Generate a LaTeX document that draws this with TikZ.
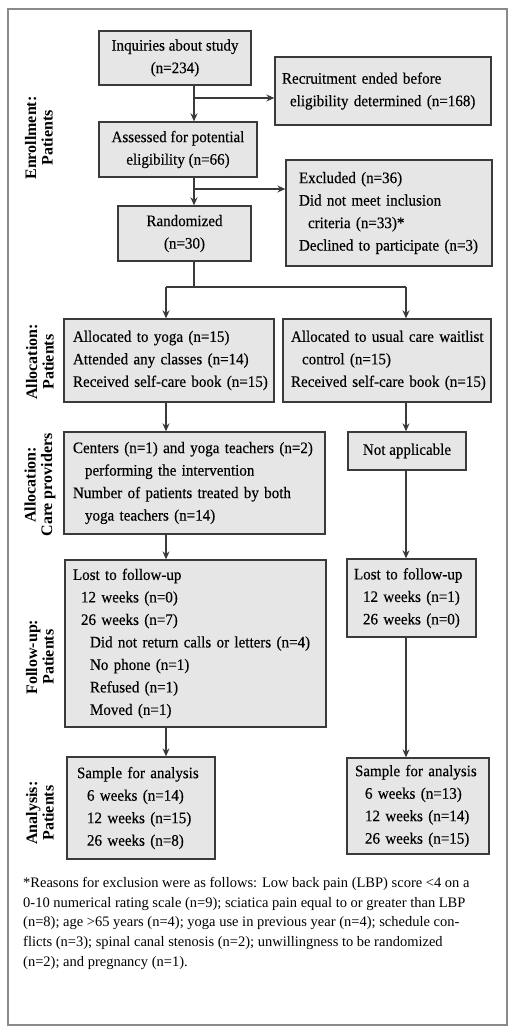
\documentclass[tikz,border=0pt]{standalone}
\usepackage{fontspec}
\setmainfont{Liberation Serif}
\newfontfamily\boxfamily[FakeStretch=0.94,FakeBold=0.3]{Liberation Serif}
\usetikzlibrary{arrows.meta}
\definecolor{boxfill}{HTML}{E6E6E6}
\definecolor{boxline}{HTML}{3A3A3A}
\definecolor{frameline}{HTML}{8A8A8A}
\tikzset{
  bx/.style={draw=boxline, fill=boxfill, line width=1.3pt, inner ysep=0pt,
    font=\boxfamily\fontsize{16}{22.5}\selectfont},
  ctr/.style={bx, align=center},
  lft/.style={bx, align=left},
  arr/.style={draw=boxline, line width=1.2pt, -{Stealth[length=8pt,width=7pt]}},
  ln/.style={draw=boxline, line width=1.2pt},
  side/.style={rotate=90, align=center, font=\bfseries\fontsize{16}{16.5}\selectfont},
}
\newcommand{\Lb}[2][0]{\mbox{\hspace*{#1pt}#2}}
\begin{document}
\begin{tikzpicture}[x=1pt,y=-1pt]
\useasboundingbox (0,0) rectangle (516,1035);
\draw[frameline, line width=1.4pt] (8,9) rectangle (507,1025);

% boxes
\node[ctr, minimum width=152pt, minimum height=54pt] (inq) at (175,58) {Inquiries about study\\(n=234)};
\node[lft, minimum height=68pt, text width=202pt, inner xsep=7pt] (rec) at (383,91) {\Lb{Recruitment ended before}\\\Lb[8]{eligibility determined (n=168)}};
\node[ctr, minimum width=158pt, minimum height=55pt] (ass) at (178,149.5) {Assessed for potential\\eligibility (n=66)};
\node[lft, minimum height=106pt, text width=180pt, inner xsep=13pt] (exc) at (389,213) {\Lb{Excluded (n=36)}\\\Lb{Did not meet inclusion}\\\Lb[9]{criteria (n=33)*}\\\Lb{Declined to participate (n=3)}};
\node[ctr, minimum width=133pt, minimum height=55pt] (ran) at (184.5,233.5) {Randomized\\(n=30)};
\node[lft, minimum height=83pt, text width=192pt, inner xsep=9pt] (ay) at (169,360.5) {\Lb{Allocated to yoga (n=15)}\\\Lb{Attended any classes (n=14)}\\\Lb{Received self-care book (n=15)}};
\node[lft, minimum height=83pt, text width=192pt, inner xsep=8pt] (au) at (387,360.5) {\Lb{Allocated to usual care waitlist}\\\Lb[11]{control (n=15)}\\\Lb{Received self-care book (n=15)}};
\node[lft, minimum height=102pt, text width=243pt, inner xsep=9pt] (cen) at (194.5,483) {\Lb{Centers (n=1) and yoga teachers (n=2)}\\\Lb[12]{performing the intervention}\\\Lb{Number of patients treated by both}\\\Lb[12]{yoga teachers (n=14)}};
\node[ctr, minimum width=118pt, minimum height=38pt] (na) at (407,451) {Not applicable};
\node[lft, minimum height=167pt, text width=245pt, inner xsep=8pt] (ll) at (195.5,643.5) {\Lb{Lost to follow-up}\\\Lb[8]{12 weeks (n=0)}\\\Lb[8]{26 weeks (n=7)}\\\Lb[17]{Did not return calls or letters (n=4)}\\\Lb[17]{No phone (n=1)}\\\Lb[17]{Refused (n=1)}\\\Lb[17]{Moved (n=1)}};
\node[lft, minimum height=78pt, text width=115pt, inner xsep=7pt] (lr) at (411.5,598) {\Lb{Lost to follow-up}\\\Lb[9]{12 weeks (n=1)}\\\Lb[9]{26 weeks (n=0)}};
\node[lft, minimum height=102pt, text width=128pt, inner xsep=10pt] (sl) at (141,808) {\Lb{Sample for analysis}\\\Lb[10]{6 weeks (n=14)}\\\Lb[10]{12 weeks (n=15)}\\\Lb[10]{26 weeks (n=8)}};
\node[lft, minimum height=96pt, text width=126pt, inner xsep=8pt] (sr) at (418,806) {\Lb{Sample for analysis}\\\Lb[10]{6 weeks (n=13)}\\\Lb[10]{12 weeks (n=14)}\\\Lb[10]{26 weeks (n=15)}};

% guide coordinates
\coordinate (cx) at (194,0);
\coordinate (lx) at (166,0);
\coordinate (rx) at (406,0);
\coordinate (j1) at (194,98);
\coordinate (j2) at (194,189);
\coordinate (sp) at (194,287);

% connectors
\draw[arr] (inq.south -| cx) -- (ass.north -| cx);
\draw[arr] (j1) -- (j1 -| rec.west);
\draw[arr] (ass.south -| cx) -- (ran.north -| cx);
\draw[arr] (j2) -- (j2 -| exc.west);
\draw[ln] (ran.south -| cx) -- (sp);
\draw[ln] (sp -| lx) -- (sp -| rx);
\draw[arr] (sp -| lx) -- (ay.north -| lx);
\draw[arr] (sp -| rx) -- (au.north -| rx);
\draw[arr] (ay.south -| lx) -- (cen.north -| lx);
\draw[arr] (cen.south -| lx) -- (ll.north -| lx);
\draw[arr] (ll.south -| lx) -- (sl.north -| lx);
\draw[arr] (au.south -| rx) -- (na.north -| rx);
\draw[arr] (na.south -| rx) -- (lr.north -| rx);
\draw[arr] (lr.south -| rx) -- (sr.north -| rx);

% side labels
\node[side] (s1) at (39,138) {Enrollment:\\Patients};
\node[side] (s2) at (40,362) {Allocation:\\Patients};
\node[side] (s3) at (40,485) {Allocation:\\Care providers};
\node[side] (s4) at (40,657) {Follow-up:\\Patients};
\node[side] (s5) at (40,813) {Analysis:\\Patients};

% footnote
\node[anchor=north west, align=left, inner sep=0pt, font=\fontsize{14.5}{19.7}\selectfont] (fn) at (23,877)
{*Reasons for exclusion were as follows: Low back pain (LBP) score <4 on a\\
0-10 numerical rating scale (n=9); sciatica pain equal to or greater than LBP\\
(n=8); age >65 years (n=4); yoga use in previous year (n=4); schedule con-\\
flicts (n=3); spinal canal stenosis (n=2); unwillingness to be randomized\\
(n=2); and pregnancy (n=1).};
\end{tikzpicture}
\end{document}
